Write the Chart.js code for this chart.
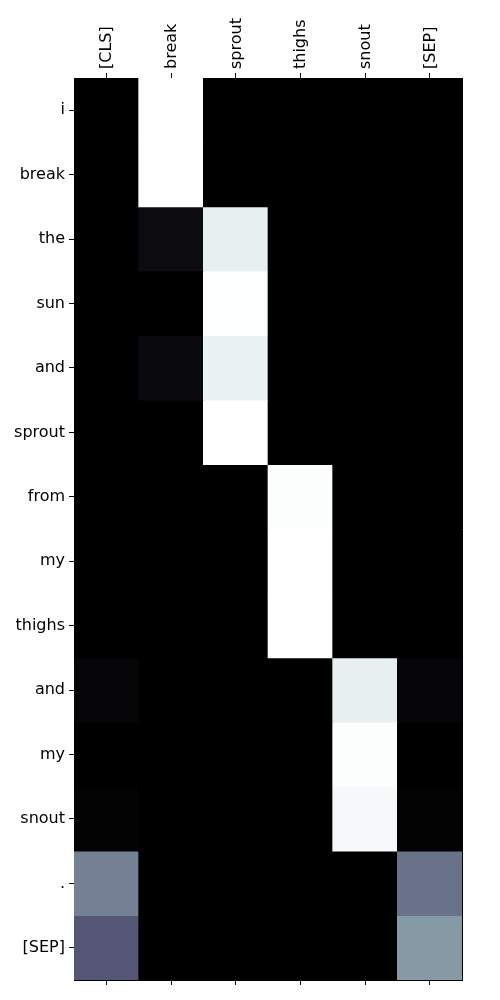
<!DOCTYPE html>
<html>
<head>
<meta charset="utf-8">
<script src="https://cdn.jsdelivr.net/npm/chart.js@4"></script>
<style>
html,body{margin:0;padding:0;background:#fff;}
#c{display:block;}
</style>
</head>
<body>
<canvas id="c" width="500" height="1000"></canvas>
<script>
// Column (key) tokens and row (query) tokens
const colLabels = ["[CLS]", "break", "sprout", "thighs", "snout", "[SEP]"];
const rowLabels = ["i", "break", "the", "sun", "and", "sprout", "from", "my", "thighs", "and", "my", "snout", ".", "[SEP]"];

// Attention values per column, one entry per row
const colCLS    = [0, 0, 0, 0, 0, 0, 0, 0, 0, 0.028, 0, 0.012, 0.52, 0.38];
const colBreak  = [1, 1, 0.05, 0, 0.045, 0, 0, 0, 0, 0, 0, 0, 0, 0];
const colSprout = [0, 0, 0.93, 0.995, 0.94, 1, 0, 0, 0, 0, 0, 0, 0, 0];
const colThighs = [0, 0, 0, 0, 0, 0, 0.99, 1, 1, 0, 0, 0, 0, 0];
const colSnout  = [0, 0, 0, 0, 0, 0, 0, 0, 0, 0.93, 0.99, 0.975, 0, 0];
const colSEP    = [0, 0, 0, 0, 0, 0, 0, 0, 0, 0.028, 0, 0.012, 0.47, 0.6];

const columns = [colCLS, colBreak, colSprout, colThighs, colSnout, colSEP];

function lerpSeg(v, pts) {
  for (let i = 1; i < pts.length; i++) {
    if (v <= pts[i][0]) {
      const [x0, y0] = pts[i - 1], [x1, y1] = pts[i];
      return y0 + (v - x0) / (x1 - x0) * (y1 - y0);
    }
  }
  return pts[pts.length - 1][1];
}
function bone(v) {
  v = Math.max(0, Math.min(1, v));
  const r = lerpSeg(v, [[0, 0], [0.746032, 0.652778], [1, 1]]);
  const g = lerpSeg(v, [[0, 0], [0.365079, 0.319444], [0.746032, 0.777778], [1, 1]]);
  const b = lerpSeg(v, [[0, 0], [0.365079, 0.444444], [1, 1]]);
  return `rgb(${Math.round(r * 255)},${Math.round(g * 255)},${Math.round(b * 255)})`;
}

const datasets = rowLabels.map((lab, r) => ({
  label: lab,
  data: colLabels.map(() => [r - 0.5, r + 0.5]),
  backgroundColor: columns.map(col => bone(col[r])),
  borderWidth: 0,
  grouped: false,
  barPercentage: 1,
  categoryPercentage: 1,
  xAxisID: 'x',
  yAxisID: 'y'
}));

Chart.defaults.font.family = "'DejaVu Sans', sans-serif";
Chart.defaults.font.size = 16;
Chart.defaults.color = '#000';

const intTicks = (scale) => {
  scale.ticks = rowLabels.map((_, i) => ({ value: i }));
};

new Chart(document.getElementById('c'), {
  type: 'bar',
  data: { labels: colLabels, datasets },
  options: {
    responsive: false,
    animation: false,
    layout: { padding: 0 },
    plugins: { legend: { display: false }, tooltip: { enabled: false } },
    scales: {
      x: {
        type: 'category',
        position: 'top',
        offset: true,
        grid: { offset: false, drawOnChartArea: false, drawTicks: true, tickLength: 5, tickColor: '#000', tickWidth: 1 },
        border: { display: true, color: '#000', width: 1 },
        ticks: { maxRotation: 90, minRotation: 90, padding: 4, labelOffset: 20, color: '#000', autoSkip: false },
        afterFit: (s) => { s.height = 78; }
      },
      x2: {
        type: 'category',
        labels: colLabels,
        position: 'bottom',
        offset: true,
        grid: { offset: false, drawOnChartArea: false, drawTicks: true, tickLength: 5, tickColor: '#000', tickWidth: 1 },
        border: { display: true, color: '#000', width: 1 },
        ticks: { display: false },
        afterFit: (s) => { s.height = 20; }
      },
      y: {
        type: 'linear',
        reverse: true,
        min: -0.5,
        max: 13.5,
        afterBuildTicks: intTicks,
        grid: { drawOnChartArea: false, drawTicks: true, tickLength: 5, tickColor: '#000', tickWidth: 1 },
        border: { display: true, color: '#000', width: 1 },
        ticks: { padding: 4, color: '#000', autoSkip: false, callback: (v) => rowLabels[v] },
        afterFit: (s) => { s.width = 74; }
      },
      y2: {
        type: 'linear',
        position: 'right',
        reverse: true,
        min: -0.5,
        max: 13.5,
        grid: { drawOnChartArea: false, drawTicks: false },
        border: { display: true, color: '#000', width: 1 },
        ticks: { display: false },
        afterFit: (s) => { s.width = 38; }
      }
    }
  }
});
</script>
</body>
</html>
